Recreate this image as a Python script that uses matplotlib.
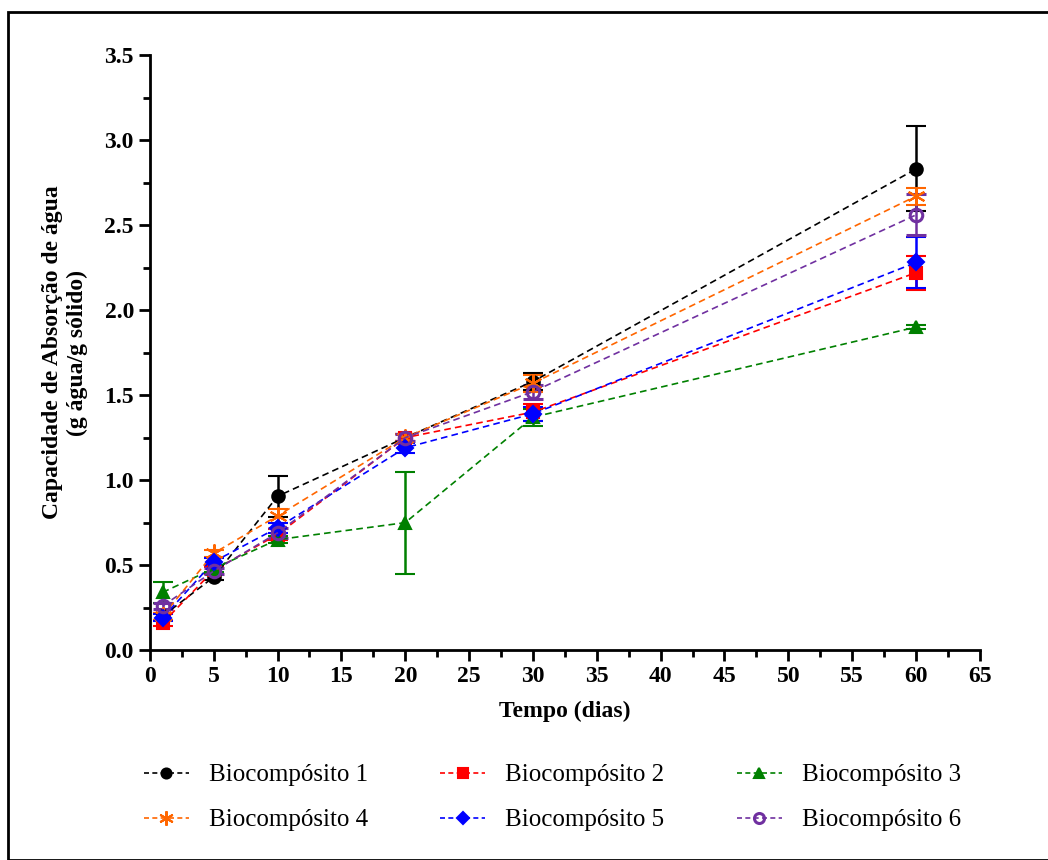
import numpy as np
import matplotlib.pyplot as plt
from matplotlib.patches import Rectangle
from matplotlib.lines import Line2D
from matplotlib.ticker import MultipleLocator

plt.rcParams['font.family'] = ['Liberation Serif', 'DejaVu Serif']

dias = [1, 5, 10, 20, 30, 60]
nomes = ['Biocompósito 1', 'Biocompósito 2', 'Biocompósito 3',
         'Biocompósito 4', 'Biocompósito 5', 'Biocompósito 6']

b1 = [0.20, 0.43, 0.905, 1.25, 1.58, 2.83]
b1_err = [0.02, 0.02, 0.12, 0.02, 0.05, 0.25]
b2 = [0.16, 0.47, 0.68, 1.25, 1.40, 2.22]
b2_err = [0.02, 0.02, 0.03, 0.02, 0.05, 0.10]
b3 = [0.34, 0.48, 0.65, 0.75, 1.37, 1.90]
b3_err = [0.06, 0.02, 0.02, 0.30, 0.05, 0.01]
b4 = [0.20, 0.57, 0.79, 1.25, 1.57, 2.67]
b4_err = [0.02, 0.02, 0.04, 0.02, 0.05, 0.05]
b5 = [0.19, 0.52, 0.72, 1.19, 1.39, 2.28]
b5_err = [0.02, 0.02, 0.03, 0.03, 0.04, 0.15]
b6 = [0.26, 0.465, 0.69, 1.25, 1.52, 2.56]
b6_err = [0.02, 0.02, 0.03, 0.02, 0.04, 0.12]

series = [b1, b2, b3, b4, b5, b6]
errs = [b1_err, b2_err, b3_err, b4_err, b5_err, b6_err]
cores = ['black', '#FF0000', '#008000', '#FF6600', '#0000FF', '#7030A0']
marcadores = ['o', 's', '^', (6, 2, 0), 'D', 'o']

fig = plt.figure(figsize=(10.48, 8.6), dpi=100)
ax = fig.add_axes([0.143, 0.244, 0.792, 0.692])

handles = []
for i in range(6):
    mfc = 'none' if i == 5 else cores[i]
    ms = 13 if i == 3 else (8 if i == 4 else 9)
    mew = 2.2 if i == 5 else 1.5
    ax.errorbar(dias, series[i], yerr=errs[i], color=cores[i], ls='--', lw=1.2,
                marker=marcadores[i], ms=ms, mfc=mfc, mec=cores[i], mew=mew,
                capsize=7, capthick=2, elinewidth=1.8, dashes=(4, 2.5))
    handles.append(Line2D([], [], color=cores[i], ls='--', lw=1.2, dashes=(3, 2),
                          marker=marcadores[i], ms=ms * 0.8, mfc=mfc, mec=cores[i],
                          mew=mew))

ax.set_xlim(0, 65)
ax.set_ylim(0, 3.5)
ax.xaxis.set_major_locator(MultipleLocator(5))
ax.xaxis.set_minor_locator(MultipleLocator(2.5))
ax.yaxis.set_major_locator(MultipleLocator(0.5))
ax.yaxis.set_minor_locator(MultipleLocator(0.25))
ax.yaxis.set_major_formatter(plt.FormatStrFormatter('%.1f'))
for s in ['top', 'right']:
    ax.spines[s].set_visible(False)
for s in ['left', 'bottom']:
    ax.spines[s].set_linewidth(2)
ax.tick_params(which='major', direction='out', length=8, width=2, labelsize=17)
ax.tick_params(which='minor', direction='out', length=5, width=2)
for lb in ax.get_xticklabels() + ax.get_yticklabels():
    lb.set_fontweight('bold')

ax.set_xlabel('Tempo (dias)', fontsize=17, fontweight='bold', labelpad=10)
ax.set_ylabel('Capacidade de Absorção de água\n(g água/g sólido)', fontsize=17,
              fontweight='bold', labelpad=12)

ordem = [0, 3, 1, 4, 2, 5]
fig.legend([handles[i] for i in ordem], [nomes[i] for i in ordem], ncol=3,
           loc='upper center', bbox_to_anchor=(0.527, 0.138), frameon=False,
           fontsize=18, columnspacing=2.9, handlelength=1.8, handletextpad=0.8,
           labelspacing=0.9)

fig.patches.append(Rectangle((8 / 1048, 0), 1.1, 1 - 12 / 860, transform=fig.transFigure,
                             fill=False, lw=2, ec='black'))

fig.savefig('out.png', dpi=100)
